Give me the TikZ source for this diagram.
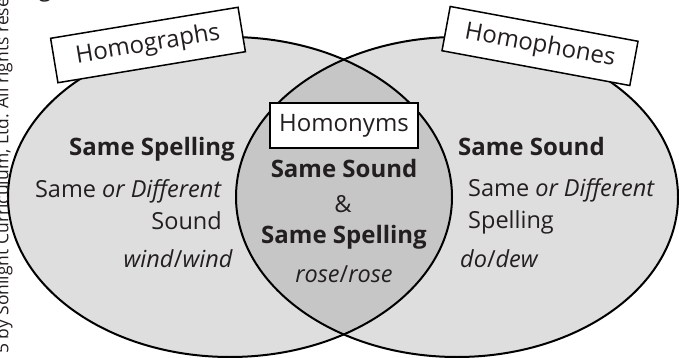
\documentclass[tikz,border=0pt]{standalone}
\usepackage{fontspec}
\setmainfont{Open Sans}
\definecolor{vennfill}{HTML}{DEDEDE}
\definecolor{lensfill}{HTML}{C6C6C6}
\definecolor{ink}{HTML}{231F20}

\begin{document}
\begin{tikzpicture}[x=1pt,y=-1pt,
  labelbox/.style={draw,fill=white,line width=1.5pt,minimum height=45pt,
    inner sep=0pt,text=ink,font=\fontsize{24}{28}\selectfont},
  venntext/.style={inner sep=0pt,text=ink,font=\fontsize{23.5}{27}\selectfont},
  venthead/.style={venntext,font=\fontsize{24}{28}\selectfont\bfseries},
  vennline/.style={draw=black,line width=2pt}]
\useasboundingbox (0,0) rectangle (679,358);

% the two sets
\fill[vennfill] (230,197) ellipse [x radius=222, y radius=160];
\fill[vennfill] (457,197) ellipse [x radius=221, y radius=160];
\begin{scope}
\clip (230,197) ellipse [x radius=222, y radius=160];
\fill[lensfill] (457,197) ellipse [x radius=221, y radius=160];
\end{scope}
\path[vennline] (230,197) ellipse [x radius=222, y radius=160];
\path[vennline] (457,197) ellipse [x radius=221, y radius=160];

% labels
\node[labelbox,minimum width=190pt,rotate=9.4] (graphs) at (148,45) {Homographs};
\node[labelbox,minimum width=191pt,rotate=-10.5] (phones) at (540,46) {Homophones};
\node[labelbox,minimum width=148pt] (nyms) at (344,125.5) {Homonyms};

% left set
\node[venthead,anchor=base east] (lhead) at (235,156) {Same Spelling};
\node[venntext,anchor=base east] (lsame) at (222,197) {Same \textit{or Different}};
\node[venntext,anchor=base east] (lsound) at (222,229) {Sound};
\node[venntext,anchor=base east] (lex) at (233,267) {\textit{wind}/\textit{wind}};

% middle
\node[venthead,anchor=base] (mhead) at (344,178) {Same Sound};
\node[venntext,anchor=base] (mand) at (343,212) {\&};
\node[venthead,anchor=base] (mhead2) at (344,243) {Same Spelling};
\node[venntext,anchor=base] (mex) at (344,282) {\textit{rose}/\textit{rose}};

% right set
\node[venthead,anchor=base west] (rhead) at (458,156) {Same Sound};
\node[venntext,anchor=base west] (rsame) at (468,196) {Same \textit{or Different}};
\node[venntext,anchor=base west] (rspell) at (468,228) {Spelling};
\node[venntext,anchor=base west] (rex) at (460,267) {\textit{do}/\textit{dew}};

% cut-off margin text
\node[venntext,anchor=base] (topg) at (45,-3) {g};
\node[inner sep=0pt,text=ink,font=\fontsize{17.5}{20}\selectfont,rotate=90,anchor=base west] (credit) at (8.5,354) {5 by Sonlight Curriculum, Ltd. All rights reserved.};
\end{tikzpicture}
\end{document}
